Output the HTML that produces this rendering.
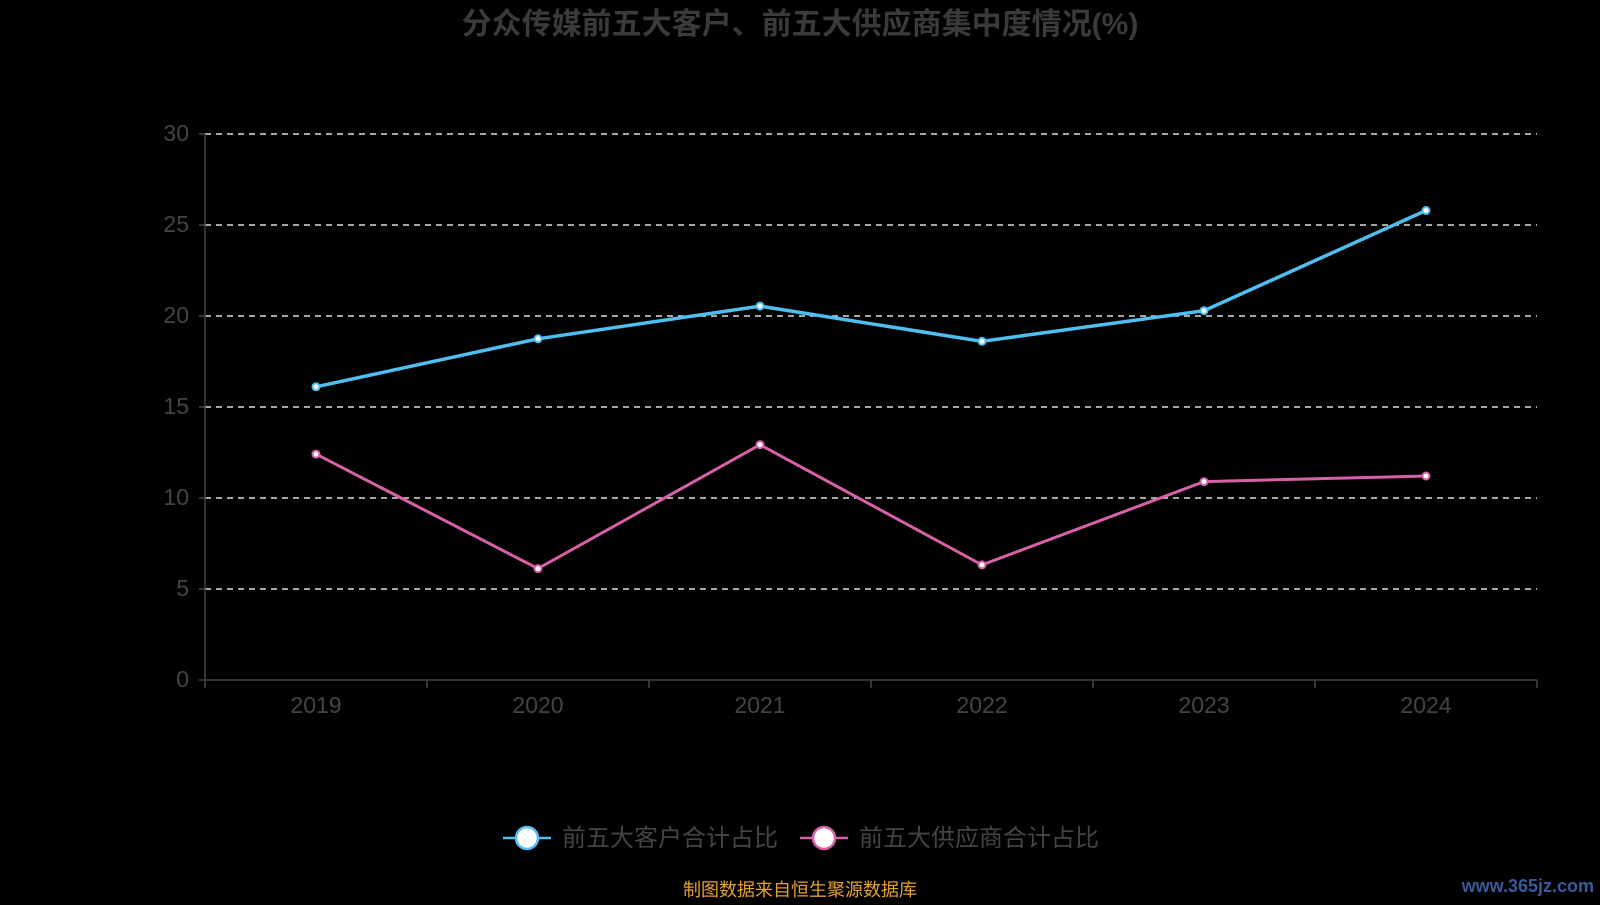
<!DOCTYPE html>
<html><head><meta charset="utf-8"><style>
body{margin:0;background:#000;width:1600px;height:900px;overflow:hidden}
svg text{font-family:"Liberation Sans","Noto Sans CJK SC",sans-serif}
</style></head><body>
<svg width="1600" height="900" xmlns="http://www.w3.org/2000/svg">
<rect width="1600" height="900" fill="#000"/>
<text x="800" y="34" text-anchor="middle" font-size="30" font-weight="bold" fill="#3a3a3a">分众传媒前五大客户、前五大供应商集中度情况(%)</text>
<g stroke="#ddd" stroke-width="1.5" stroke-dasharray="6,5">
<line x1="205" x2="1537" y1="134" y2="134"/>
<line x1="205" x2="1537" y1="225" y2="225"/>
<line x1="205" x2="1537" y1="316" y2="316"/>
<line x1="205" x2="1537" y1="407" y2="407"/>
<line x1="205" x2="1537" y1="498" y2="498"/>
<line x1="205" x2="1537" y1="589" y2="589"/>
</g>
<g stroke="#444" stroke-width="1.5">
<line x1="205" x2="205" y1="134" y2="680"/>
<line x1="205" x2="1537" y1="680" y2="680"/>
<line x1="199" x2="205" y1="134" y2="134"/><line x1="199" x2="205" y1="225" y2="225"/>
<line x1="199" x2="205" y1="316" y2="316"/><line x1="199" x2="205" y1="407" y2="407"/>
<line x1="199" x2="205" y1="498" y2="498"/><line x1="199" x2="205" y1="589" y2="589"/>
<line x1="199" x2="205" y1="680" y2="680"/>
<line x1="205" x2="205" y1="680" y2="688"/><line x1="427" x2="427" y1="680" y2="688"/>
<line x1="649" x2="649" y1="680" y2="688"/><line x1="871" x2="871" y1="680" y2="688"/>
<line x1="1093" x2="1093" y1="680" y2="688"/><line x1="1315" x2="1315" y1="680" y2="688"/>
<line x1="1537" x2="1537" y1="680" y2="688"/>
</g>
<g font-size="23" fill="#444" text-anchor="end">
<text x="189" y="141">30</text><text x="189" y="232">25</text><text x="189" y="323">20</text>
<text x="189" y="414">15</text><text x="189" y="505">10</text><text x="189" y="596">5</text><text x="189" y="687">0</text>
</g>
<g font-size="23" fill="#444" text-anchor="middle">
<text x="316" y="713">2019</text><text x="538" y="713">2020</text><text x="760" y="713">2021</text>
<text x="982" y="713">2022</text><text x="1204" y="713">2023</text><text x="1426" y="713">2024</text>
</g>
<polyline fill="none" stroke="#4fbef0" stroke-width="3.5" points="316,386.8 538,338.8 760,306.1 982,341.3 1204,310.7 1426,210.5"/>
<polyline fill="none" stroke="#d860a8" stroke-width="3" points="316,454.1 538,568.6 760,444.7 982,564.9 1204,481.6 1426,476"/>
<g fill="#fff" stroke="#4fbef0" stroke-width="2">
<circle cx="316" cy="386.8" r="3.5"/><circle cx="538" cy="338.8" r="3.5"/><circle cx="760" cy="306.1" r="3.5"/>
<circle cx="982" cy="341.3" r="3.5"/><circle cx="1204" cy="310.7" r="3.5"/><circle cx="1426" cy="210.5" r="3.5"/>
</g>
<g fill="#fff" stroke="#d860a8" stroke-width="2">
<circle cx="316" cy="454.1" r="3.5"/><circle cx="538" cy="568.6" r="3.5"/><circle cx="760" cy="444.7" r="3.5"/>
<circle cx="982" cy="564.9" r="3.5"/><circle cx="1204" cy="481.6" r="3.5"/><circle cx="1426" cy="476" r="3.5"/>
</g>
<line x1="503" x2="551" y1="838" y2="838" stroke="#4fbef0" stroke-width="2.5"/>
<circle cx="527" cy="838" r="11" fill="#fff" stroke="#4fbef0" stroke-width="2.5"/>
<text x="562" y="846" font-size="24" fill="#444">前五大客户合计占比</text>
<line x1="800" x2="848" y1="838" y2="838" stroke="#d860a8" stroke-width="2.5"/>
<circle cx="824" cy="838" r="11" fill="#fff" stroke="#d860a8" stroke-width="2.5"/>
<text x="859" y="846" font-size="24" fill="#444">前五大供应商合计占比</text>
<text x="800" y="896" text-anchor="middle" font-size="18" fill="#e6a030">制图数据来自恒生聚源数据库</text>
<text x="1594" y="892" text-anchor="end" font-size="18" font-weight="bold" fill="#3a5a9a">www.365jz.com</text>
</svg>
</body></html>
